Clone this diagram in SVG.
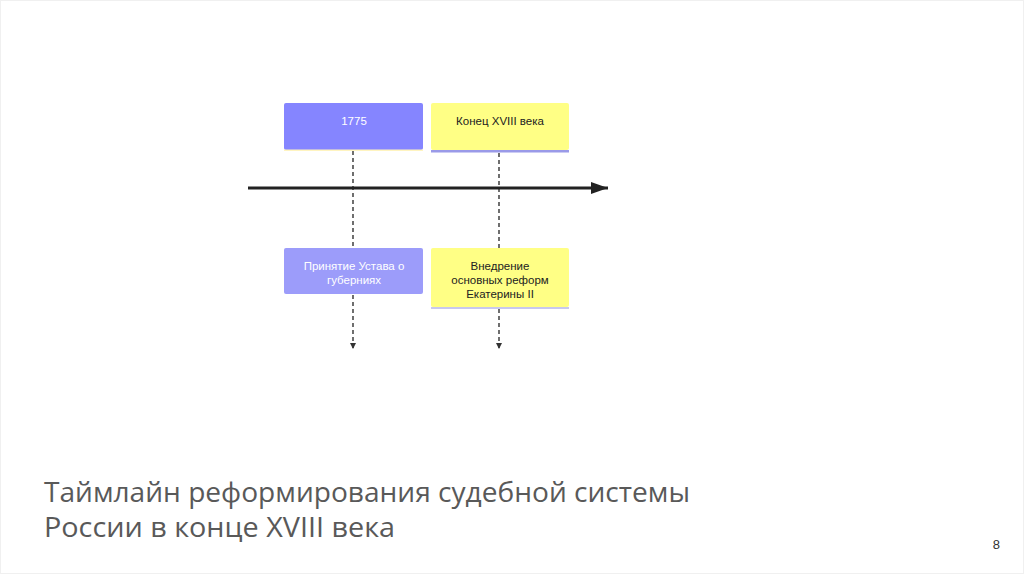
<svg xmlns="http://www.w3.org/2000/svg" width="1024" height="574" viewBox="0 0 1024 574">
<defs>
<style>
.t{font-family:"Liberation Sans",Arial,sans-serif;font-size:11.5px;text-anchor:middle}
.w{fill:#ffffff}
.k{fill:#222222}
.dash{stroke:#222;stroke-width:1.3;stroke-dasharray:4,3;fill:none}
.title{font-family:"Open Sans","Liberation Sans",sans-serif;font-size:28px;fill:#595959}
</style>
<marker id="ah" viewBox="0 0 10 10" refX="10" refY="5" markerWidth="6" markerHeight="6" markerUnits="userSpaceOnUse" orient="auto"><path d="M0,0 L10,5 L0,10 z" fill="#333"/></marker>
<marker id="big" viewBox="0 0 10 10" refX="10" refY="5" markerWidth="17" markerHeight="12" markerUnits="userSpaceOnUse" orient="auto" preserveAspectRatio="none"><path d="M0,0 L10,5 L0,10 z" fill="#222"/></marker>
</defs>
<rect x="0.5" y="0.5" width="1023" height="573" fill="#ffffff" stroke="#f0f0f0"/>
<g id="connectors">
<line x1="248" y1="188" x2="608" y2="188" stroke="#222" stroke-width="3" marker-end="url(#big)"/>
<line class="dash" x1="353" y1="151" x2="353" y2="248"/>
<line class="dash" x1="499" y1="153" x2="499" y2="248"/>
<line class="dash" x1="353" y1="295" x2="353" y2="349" marker-end="url(#ah)"/>
<line class="dash" x1="499" y1="309" x2="499" y2="349" marker-end="url(#ah)"/>
</g>
<g id="n1775">
<rect x="284" y="103" width="139" height="47" rx="2" fill="#8585ff"/>
<rect x="284" y="149.5" width="139" height="1.5" fill="#fff4c0"/>
<text class="t w" x="354" y="125">1775</text>
</g>
<g id="nEnd">
<rect x="431" y="103" width="138" height="47" rx="2" fill="#ffff85"/>
<rect x="431" y="150" width="138" height="2.5" fill="#9a9ae8"/>
<text class="t k" x="500" y="125">Конец XVIII века</text>
</g>
<g id="nUstav">
<rect x="284" y="248" width="139" height="46" rx="2" fill="#9c9cfa"/>
<text class="t w" x="354" y="270">Принятие Устава о</text>
<text class="t w" x="354" y="284">губерниях</text>
</g>
<g id="nReform">
<rect x="431" y="248" width="138" height="59" rx="2" fill="#ffff85"/>
<rect x="431" y="307" width="138" height="2" fill="#c8c8ee"/>
<text class="t k" x="500" y="270">Внедрение</text>
<text class="t k" x="500" y="284">основных реформ</text>
<text class="t k" x="500" y="298">Екатерины II</text>
</g>
<g id="title">
<text class="title" x="44" y="502" textLength="646" lengthAdjust="spacingAndGlyphs">Таймлайн реформирования судебной системы</text>
<text class="title" x="44" y="537" textLength="351" lengthAdjust="spacingAndGlyphs">России в конце XVIII века</text>
</g>
<text x="1000" y="549" font-family="Liberation Sans,Arial,sans-serif" font-size="13" fill="#333" text-anchor="end">8</text>
</svg>
